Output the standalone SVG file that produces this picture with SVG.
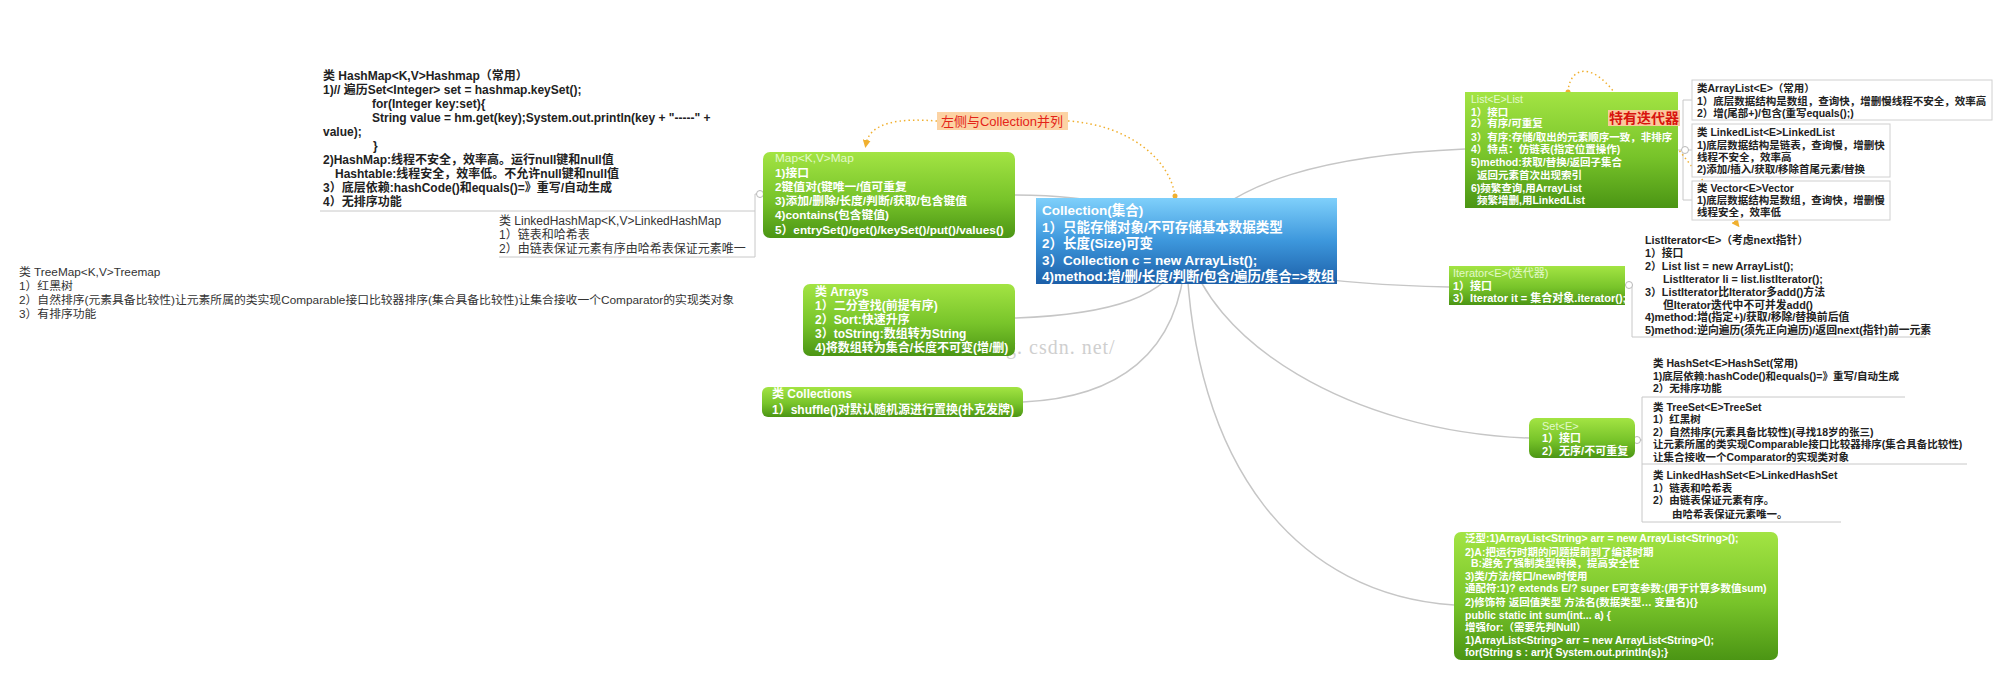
<svg xmlns="http://www.w3.org/2000/svg" width="2005" height="675" viewBox="0 0 2005 675">
<defs>
<linearGradient id="gg" x1="0" y1="0" x2="0" y2="1"><stop offset="0" stop-color="#a3e443"/><stop offset="0.55" stop-color="#78c42a"/><stop offset="1" stop-color="#4b9514"/></linearGradient>
<linearGradient id="gb" x1="0" y1="0" x2="0" y2="1"><stop offset="0" stop-color="#7fd0fb"/><stop offset="0.5" stop-color="#3d97dc"/><stop offset="1" stop-color="#1c5fa8"/></linearGradient>
<marker id="ah" markerWidth="8" markerHeight="8" refX="4" refY="4" orient="auto" markerUnits="userSpaceOnUse"><path d="M0,0 L8,4 L0,8 z" fill="#f0b030"/></marker>
<style>
text{font-family:"Liberation Sans","Noto Sans CJK SC",sans-serif;}
.w{fill:#fff;font-weight:bold;}
.wt{fill:#f0ffe0;font-weight:normal;opacity:0.85;}
.d{fill:#222;font-weight:bold;}
.r{fill:#333;font-weight:normal;}
.con{fill:none;stroke:#c6c6c6;stroke-width:1.5;}
.br{fill:none;stroke:#c8c8c8;stroke-width:1;}
.box{fill:#fff;stroke:#d0d0d0;stroke-width:1;}
.dot{fill:none;stroke:#f0b030;stroke-width:1.5;stroke-dasharray:1.5 3;}
.ci{fill:#fff;stroke:#b8b8b8;stroke-width:1;}
</style>
</defs>
<rect width="2005" height="675" fill="#fff"/>
<text x="1006" y="354" style="font-family:'Liberation Serif',serif;font-size:20px;fill:#cfcfcf;letter-spacing:1px">g. csdn. net/</text>

<g id="connectors">
<path class="con" d="M1186,241 C1150,205 1080,195 1015,195"/>
<path class="con" d="M1186,241 C1180,300 1100,315 1015,318"/>
<path class="con" d="M1186,241 C1185,360 1110,398 1023,402"/>
<path class="con" d="M1186,241 C1230,180 1330,155 1465,149"/>
<path class="con" d="M1186,241 C1250,275 1330,284 1449,287"/>
<path class="con" d="M1186,241 C1205,340 1350,432 1529,438"/>
<path class="con" d="M1186,241 C1190,470 1300,595 1454,605"/>
<!-- Map children -->
<path class="br" d="M760,194 H755 M755,194 V257 M320,211 H755 M499,257 H755"/>
<circle class="ci" cx="760" cy="194" r="3.5"/>
<!-- List children -->
<path class="br" d="M1678,150 H1683 M1683,100 V200 M1683,100 H1692 M1683,150 H1692 M1683,200 H1692"/>
<circle class="ci" cx="1685" cy="150" r="3.5"/>
<!-- Iterator child -->
<path class="br" d="M1625,285 H1632 V337 H1926"/>
<circle class="ci" cx="1629" cy="285" r="3.5"/>
<!-- Set children -->
<path class="br" d="M1635,440 H1642 M1642,397 V522 M1642,397 H1905 M1642,464 H1967 M1642,522 H1841"/>
<circle class="ci" cx="1637" cy="440" r="3.5"/>
<!-- dotted relationships -->
<path class="dot" d="M937,121 C900,118 870,122 866,144" marker-end="url(#ah)"/>
<path class="dot" d="M1068,121 C1130,125 1170,160 1175,196"/>
<circle cx="1175" cy="196" r="2.5" fill="#f0b030"/>
<path class="dot" d="M1568,92 C1570,62 1600,62 1625,110"/>
<circle cx="1568" cy="92" r="2.5" fill="#f0b030"/>
<path class="dot" d="M1660,126 L1737,224" marker-end="url(#ah)"/>
</g>

<g id="hashmap">
<text class="d" font-size="12">
<tspan x="323" y="80">类 HashMap&lt;K,V&gt;Hashmap（常用）</tspan>
<tspan x="323" y="94">1)// 遍历Set&lt;Integer&gt; set = hashmap.keySet();</tspan>
<tspan x="372" y="108">for(Integer key:set){</tspan>
<tspan x="372" y="122">String value = hm.get(key);System.out.println(key + "-----" +</tspan>
<tspan x="323" y="136">value);</tspan>
<tspan x="373" y="150">}</tspan>
<tspan x="323" y="164">2)HashMap:线程不安全，效率高。运行null键和null值</tspan>
<tspan x="335" y="178">Hashtable:线程安全，效率低。不允许null键和null值</tspan>
<tspan x="323" y="192">3）底层依赖:hashCode()和equals()=》重写/自动生成</tspan>
<tspan x="323" y="206">4）无排序功能</tspan>
</text>
</g>

<g id="linkedhashmap">
<text class="r" font-size="12">
<tspan x="499" y="225">类 LinkedHashMap&lt;K,V&gt;LinkedHashMap</tspan>
<tspan x="499" y="239">1）链表和哈希表</tspan>
<tspan x="499" y="253">2）由链表保证元素有序由哈希表保证元素唯一</tspan>
</text>
</g>

<g id="treemap">
<text class="r" font-size="11.8">
<tspan x="19" y="276">类 TreeMap&lt;K,V&gt;Treemap</tspan>
<tspan x="19" y="290">1）红黑树</tspan>
<tspan x="19" y="304">2）自然排序(元素具备比较性)让元素所属的类实现Comparable接口比较器排序(集合具备比较性)让集合接收一个Comparator的实现类对象</tspan>
<tspan x="19" y="318">3）有排序功能</tspan>
</text>
</g>

<g id="label-left">
<rect x="937" y="112" width="131" height="18" fill="#fcd3a4"/>
<text x="1002" y="126" text-anchor="middle" font-size="13" fill="#e42318">左侧与Collection并列</text>
</g>

<g id="map">
<rect x="763" y="152" width="252" height="86" rx="7" fill="url(#gg)"/>
<text class="w" font-size="11.8">
<tspan class="wt" x="775" y="162">Map&lt;K,V&gt;Map</tspan>
<tspan x="775" y="177">1)接口</tspan>
<tspan x="775" y="191">2键值对(键唯一/值可重复</tspan>
<tspan x="775" y="205">3)添加/删除/长度/判断/获取/包含键值</tspan>
<tspan x="775" y="219">4)contains(包含键值)</tspan>
<tspan x="775" y="234">5）entrySet()/get()/keySet()/put()/values()</tspan>
</text>
</g>

<g id="collection">
<rect x="1036" y="198" width="301" height="86" fill="url(#gb)"/>
<text class="w" font-size="13.5">
<tspan x="1042" y="215">Collection(集合)</tspan>
<tspan x="1042" y="232">1）只能存储对象/不可存储基本数据类型</tspan>
<tspan x="1042" y="248">2）长度(Size)可变</tspan>
<tspan x="1042" y="265">3）Collection c = new ArrayList();</tspan>
<tspan x="1042" y="281">4)method:增/删/长度/判断/包含/遍历/集合=&gt;数组</tspan>
</text>
</g>

<g id="arrays">
<rect x="803" y="284" width="212" height="72" rx="7" fill="url(#gg)"/>
<text class="w" font-size="12">
<tspan x="815" y="296">类 Arrays</tspan>
<tspan x="815" y="310">1）二分查找(前提有序)</tspan>
<tspan x="815" y="324">2）Sort:快速升序</tspan>
<tspan x="815" y="338">3）toString:数组转为String</tspan>
<tspan x="815" y="352">4)将数组转为集合/长度不可变(增/删)</tspan>
</text>
</g>

<g id="collections">
<rect x="762" y="387" width="261" height="30" rx="6" fill="url(#gg)"/>
<text class="w" font-size="12">
<tspan x="772" y="398">类 Collections</tspan>
<tspan x="772" y="414">1）shuffle()对默认随机源进行置换(扑克发牌)</tspan>
</text>
</g>

<g id="list">
<rect x="1465" y="92" width="213" height="116" fill="url(#gg)"/>
<text class="w" font-size="10.5">
<tspan class="wt" x="1471" y="103">List&lt;E&gt;List</tspan>
<tspan x="1471" y="116">1）接口</tspan>
<tspan x="1471" y="127">2）有序/可重复</tspan>
<tspan x="1471" y="141">3）有序:存储/取出的元素顺序一致，非排序</tspan>
<tspan x="1471" y="153">4）特点：仿链表(指定位置操作)</tspan>
<tspan x="1471" y="166">5)method:获取/替换/返回子集合</tspan>
<tspan x="1477" y="179">返回元素首次出现索引</tspan>
<tspan x="1471" y="192">6)频繁查询,用ArrayList</tspan>
<tspan x="1477" y="204">频繁增删,用LinkedList</tspan>
</text>
</g>

<g id="label-list">
<rect x="1608" y="110" width="72" height="16" fill="#fbc89c"/>
<text x="1644" y="123" text-anchor="middle" font-size="14" font-weight="bold" fill="#d8140e">特有迭代器</text>
</g>

<g id="arraylist">
<rect class="box" x="1692" y="80" width="300" height="40"/>
<text class="d" font-size="10.5">
<tspan x="1697" y="92">类ArrayList&lt;E&gt;（常用）</tspan>
<tspan x="1697" y="105">1）底层数据结构是数组，查询快，增删慢线程不安全，效率高</tspan>
<tspan x="1697" y="117">2）增(尾部+)/包含(重写equals();)</tspan>
</text>
</g>

<g id="linkedlist">
<rect class="box" x="1692" y="124" width="198" height="53"/>
<text class="d" font-size="10.5">
<tspan x="1697" y="136">类 LinkedList&lt;E&gt;LinkedList</tspan>
<tspan x="1697" y="149">1)底层数据结构是链表，查询慢，增删快</tspan>
<tspan x="1697" y="161">线程不安全，效率高</tspan>
<tspan x="1697" y="173">2)添加/插入/获取/移除首尾元素/替换</tspan>
</text>
</g>

<g id="vector">
<rect class="box" x="1692" y="181" width="198" height="39"/>
<text class="d" font-size="10.5">
<tspan x="1697" y="192">类 Vector&lt;E&gt;Vector</tspan>
<tspan x="1697" y="204">1)底层数据结构是数组，查询快，增删慢</tspan>
<tspan x="1697" y="216">线程安全，效率低</tspan>
</text>
</g>

<g id="iterator">
<rect x="1449" y="266" width="176" height="39" fill="url(#gg)"/>
<text class="w" font-size="11">
<tspan class="wt" x="1453" y="277">Iterator&lt;E&gt;(迭代器)</tspan>
<tspan x="1453" y="290">1）接口</tspan>
<tspan x="1453" y="302">3）Iterator it = 集合对象.iterator();</tspan>
</text>
</g>

<g id="listiterator">
<text class="d" font-size="10.8">
<tspan x="1645" y="244">ListIterator&lt;E&gt;（考虑next指针）</tspan>
<tspan x="1645" y="257">1）接口</tspan>
<tspan x="1645" y="270">2）List list = new ArrayList();</tspan>
<tspan x="1663" y="283">ListIterator li = list.listIterator();</tspan>
<tspan x="1645" y="296">3）ListIterator比Iterator多add()方法</tspan>
<tspan x="1663" y="309">但Iterator迭代中不可并发add()</tspan>
<tspan x="1645" y="321">4)method:增(指定+)/获取/移除/替换前后值</tspan>
<tspan x="1645" y="334">5)method:逆向遍历(须先正向遍历)/返回next(指针)前一元素</tspan>
</text>
</g>

<g id="set">
<rect x="1529" y="418" width="106" height="40" rx="7" fill="url(#gg)"/>
<text class="w" font-size="11">
<tspan class="wt" x="1542" y="430">Set&lt;E&gt;</tspan>
<tspan x="1542" y="442">1）接口</tspan>
<tspan x="1542" y="455">2）无序/不可重复</tspan>
</text>
</g>

<g id="hashset">
<text class="d" font-size="10.5">
<tspan x="1653" y="367">类 HashSet&lt;E&gt;HashSet(常用)</tspan>
<tspan x="1653" y="380">1)底层依赖:hashCode()和equals()=》重写/自动生成</tspan>
<tspan x="1653" y="392">2）无排序功能</tspan>
</text>
</g>

<g id="treeset">
<text class="d" font-size="10.5">
<tspan x="1653" y="411">类 TreeSet&lt;E&gt;TreeSet</tspan>
<tspan x="1653" y="423">1）红黑树</tspan>
<tspan x="1653" y="436">2）自然排序(元素具备比较性)(寻找18岁的张三)</tspan>
<tspan x="1653" y="448">让元素所属的类实现Comparable接口比较器排序(集合具备比较性)</tspan>
<tspan x="1653" y="461">让集合接收一个Comparator的实现类对象</tspan>
</text>
</g>

<g id="linkedhashset">
<text class="d" font-size="10.5">
<tspan x="1653" y="479">类 LinkedHashSet&lt;E&gt;LinkedHashSet</tspan>
<tspan x="1653" y="492">1）链表和哈希表</tspan>
<tspan x="1653" y="504">2）由链表保证元素有序。</tspan>
<tspan x="1672" y="518">由哈希表保证元素唯一。</tspan>
</text>
</g>

<g id="generics">
<rect x="1454" y="532" width="324" height="128" rx="7" fill="url(#gg)"/>
<text class="w" font-size="10.5">
<tspan x="1465" y="542">泛型:1)ArrayList&lt;String&gt; arr = new ArrayList&lt;String&gt;();</tspan>
<tspan x="1465" y="556">2)A:把运行时期的问题提前到了编译时期</tspan>
<tspan x="1471" y="567">B:避免了强制类型转换，提高安全性</tspan>
<tspan x="1465" y="580">3)类/方法/接口/new时使用</tspan>
<tspan x="1465" y="592">通配符:1)? extends E/? super E可变参数:(用于计算多数值sum)</tspan>
<tspan x="1465" y="606">2)修饰符 返回值类型 方法名(数据类型…  变量名){}</tspan>
<tspan x="1465" y="619">public static int sum(int... a) {</tspan>
<tspan x="1465" y="631">增强for:（需要先判Null）</tspan>
<tspan x="1465" y="644">1)ArrayList&lt;String&gt; arr = new ArrayList&lt;String&gt;();</tspan>
<tspan x="1465" y="656">for(String s : arr){ System.out.println(s);}</tspan>
</text>
</g>
</svg>
